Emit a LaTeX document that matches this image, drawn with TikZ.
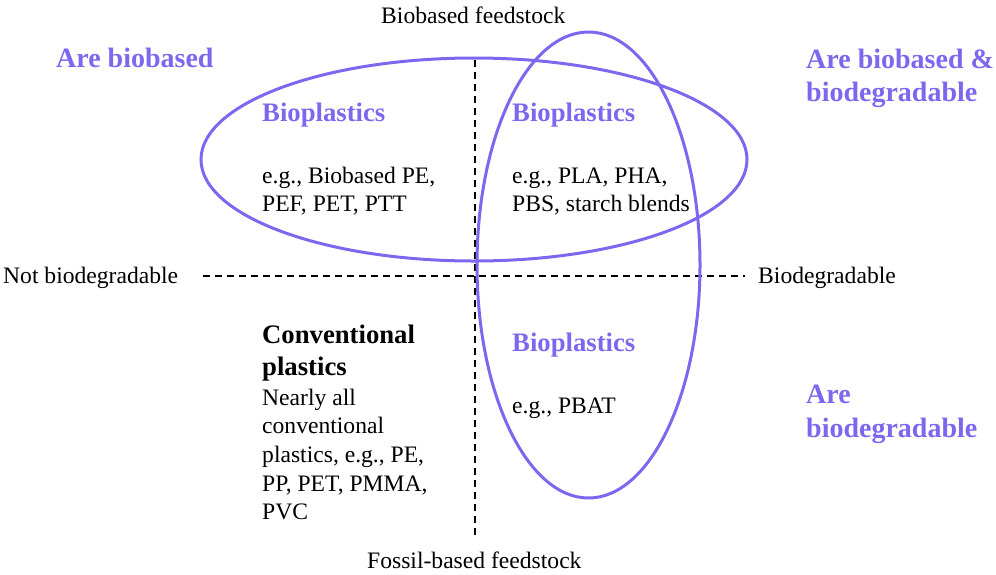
\documentclass[tikz,border=0pt]{standalone}
\usepackage{fontspec}
\setmainfont{LiberationSerif}[Extension=.ttf,UprightFont=*-Regular,BoldFont=*-Bold]
\definecolor{vio}{RGB}{123,104,238}
\begin{document}
\begin{tikzpicture}[x=1pt,y=-1pt,
  txt/.style={anchor=base west,inner sep=0pt,font=\fontsize{23.6}{28}\selectfont,text=black},
  bio/.style={anchor=base west,inner sep=0pt,font=\fontsize{26.7}{32}\selectfont\bfseries,text=vio},
  big/.style={anchor=base west,inner sep=0pt,font=\fontsize{28}{34}\selectfont\bfseries,text=vio},
  conv/.style={anchor=base west,inner sep=0pt,font=\fontsize{26.7}{32}\selectfont\bfseries,text=black},
  axis/.style={draw=black,line width=1.4pt,dash pattern=on 7pt off 5pt},
  ring/.style={draw=vio,line width=3pt}]
\useasboundingbox (0,0) rectangle (996,574);
% axes
\coordinate (vt) at (475,60);
\coordinate (vb) at (475,538);
\coordinate (hl) at (203,276);
\coordinate (hr) at (745,276);
\draw[axis] (vt) -- (vb);
\draw[axis] (hl) -- (hr);
% ellipses
\draw[ring] (474,159.5) ellipse [x radius=273, y radius=101.5];
\draw[ring] (588.5,265) ellipse [x radius=111.5, y radius=233];
% axis labels
\node[txt] (top) at (381,23) {Biobased feedstock};
\node[txt] (bot) at (367,568) {Fossil-based feedstock};
\node[txt] (lft) at (3,283) {Not biodegradable};
\node[txt] (rgt) at (758,283) {Biodegradable};
% quadrant headings
\node[big] (ab) at (56,67) {Are biobased};
\node[big] (abd1) at (806,68) {Are biobased \&};
\node[big] (abd2) at (806,101) {biodegradable};
\node[big] (ad1) at (806,403) {Are};
\node[big] (ad2) at (806,437) {biodegradable};
% upper left
\node[bio] (b1) at (262,121) {Bioplastics};
\node[txt] (b1a) at (262,183) {e.g., Biobased PE,};
\node[txt] (b1b) at (262,211) {PEF, PET, PTT};
% upper right
\node[bio] (b2) at (512,121) {Bioplastics};
\node[txt] (b2a) at (512,183) {e.g., PLA, PHA,};
\node[txt] (b2b) at (512,211) {PBS, starch blends};
% lower right
\node[bio] (b3) at (512,351) {Bioplastics};
\node[txt] (b3a) at (512,413) {e.g., PBAT};
% lower left
\node[conv] (c1) at (262,343) {Conventional};
\node[conv] (c2) at (262,375) {plastics};
\node[txt] (c3) at (262,405) {Nearly all};
\node[txt] (c4) at (262,433) {conventional};
\node[txt] (c5) at (262,462) {plastics, e.g., PE,};
\node[txt] (c6) at (262,491) {PP, PET, PMMA,};
\node[txt] (c7) at (262,519) {PVC};
\end{tikzpicture}
\end{document}
